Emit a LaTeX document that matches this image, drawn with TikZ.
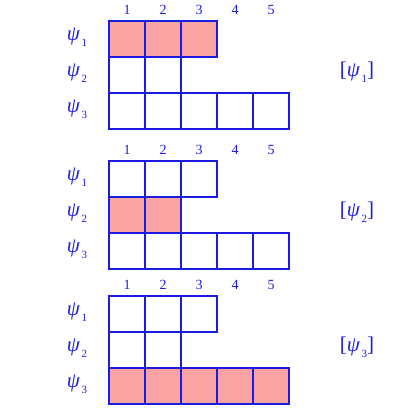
\documentclass[tikz,border=0pt]{standalone}
\usepackage{fontspec}
\setmainfont{Liberation Serif}
\definecolor{ln}{HTML}{1C1CE0}
\definecolor{fl}{HTML}{F9A3A3}
\newcommand{\psisub}[1]{\textit{ψ}\kern1.5pt\raisebox{-6pt}{\fontsize{11}{11}\selectfont #1}}
\begin{document}
\begin{tikzpicture}[x=1pt,y=-1pt,
  cell/.style={draw=ln,line width=1.3pt,minimum size=36pt,inner sep=0pt,outer sep=0pt},
  num/.style={text=ln,font=\fontsize{14}{14}\selectfont,inner sep=0pt},
  psi/.style={text=ln,font=\fontsize{21}{21}\selectfont,inner sep=0pt}]
\useasboundingbox (0,0) rectangle (408,408);
\foreach \top/\p in {21/1,161/2,296/3} {
  \foreach \r/\n in {1/3,2/2,3/5} {
    \foreach \c in {1,...,\n} {
      \ifnum\r=\p \def\cf{fl}\else\def\cf{white}\fi
      \node[cell,fill=\cf] (p\p r\r c\c) at (109+36*\c-18, \top+36*\r-18) {};
    }
    \node[psi] (p\p l\r) at (77, \top+36*\r-20) {\psisub{\r}};
  }
  \foreach \c in {1,...,5} {
    \node[num] (p\p n\c) at (109+36*\c-18, \top-11) {\c};
  }
  \node[psi] (p\p b) at (357, \top+51) {[\psisub{\p}]};
}
\end{tikzpicture}
\end{document}
